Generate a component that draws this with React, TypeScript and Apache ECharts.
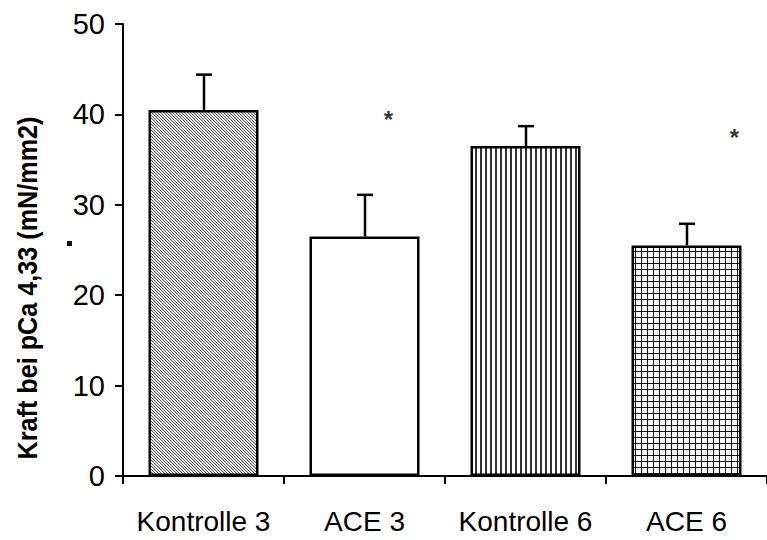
import React, { useEffect, useRef } from "react";
import * as echarts from "echarts";

const categories = ["Kontrolle 3", "ACE 3", "Kontrolle 6", "ACE 6"];
const meanValues = [40.5, 26.5, 36.5, 25.5];
const errorTops = [44.4, 31.1, 38.7, 27.9];
const starCategories = [1, 3];
const starValues = [39.4, 37.4];
const yTicks = { min: 0, max: 50, interval: 10 };

function makePattern(kind: string): HTMLCanvasElement {
  const c = document.createElement("canvas");
  if (kind === "diag") {
    c.width = 6; c.height = 6;
    const ctx = c.getContext("2d")!;
    ctx.fillStyle = "#ffffff";
    ctx.fillRect(0, 0, 6, 6);
    for (let y = 0; y < 6; y++) {
      for (let x = 0; x < 6; x++) {
        const m = (x - y + 60) % 3;
        if (m === 0) { ctx.fillStyle = "#555555"; ctx.fillRect(x, y, 1, 1); }
        else if (m === 1 && (x + y) % 2 === 0) { ctx.fillStyle = "#c8c8c8"; ctx.fillRect(x, y, 1, 1); }
      }
    }
  } else if (kind === "vert") {
    c.width = 5; c.height = 5;
    const ctx = c.getContext("2d")!;
    ctx.fillStyle = "#ffffff";
    ctx.fillRect(0, 0, 5, 5);
    ctx.fillStyle = "#333333";
    ctx.fillRect(0, 0, 2, 5);
  } else if (kind === "grid") {
    c.width = 6; c.height = 6;
    const ctx = c.getContext("2d")!;
    ctx.fillStyle = "#ffffff";
    ctx.fillRect(0, 0, 6, 6);
    ctx.fillStyle = "#111111";
    ctx.fillRect(5, 0, 1, 6);
    ctx.fillRect(0, 5, 6, 1);
  }
  return c;
}

export default function App() {
  const ref = useRef<HTMLDivElement>(null);
  useEffect(() => {
    if (!ref.current) return;
    const chart = echarts.init(ref.current, null, { renderer: "svg" });
    const fills: any[] = [
      { image: makePattern("diag"), repeat: "repeat" },
      "#ffffff",
      { image: makePattern("vert"), repeat: "repeat" },
      { image: makePattern("grid"), repeat: "repeat" },
    ];
    const starOffsets = [[24, 0], [48, 0]];
    const font = "'Liberation Sans', Arial, sans-serif";
    chart.setOption({
      animation: false,
      backgroundColor: "#ffffff",
      grid: { left: 123, top: 24, width: 652, height: 452 },
      xAxis: {
        type: "category",
        data: categories,
        boundaryGap: true,
        axisLine: { lineStyle: { color: "#000", width: 2 } },
        axisTick: { show: true, length: 8, lineStyle: { color: "#000", width: 2 } },
        axisLabel: { color: "#000", fontSize: 28, fontFamily: font, margin: 31, interval: 0 },
        splitLine: { show: false },
      },
      yAxis: {
        type: "value",
        min: yTicks.min,
        max: yTicks.max,
        interval: yTicks.interval,
        axisLine: { show: true, lineStyle: { color: "#000", width: 2 } },
        axisTick: { show: true, length: 8, lineStyle: { color: "#000", width: 2 } },
        axisLabel: { color: "#000", fontSize: 29, fontFamily: font, margin: 18 },
        splitLine: { show: false },
      },
      graphic: [
        {
          type: "text",
          x: 28,
          y: 288,
          rotation: Math.PI / 2,
          scaleX: 0.9,
          style: {
            text: "Kraft bei pCa 4,33 (mN/mm2)",
            fontSize: 28,
            fontWeight: "bold",
            fontFamily: font,
            fill: "#000",
            align: "center",
            verticalAlign: "middle",
          },
        },
        {
          type: "rect",
          shape: { x: 67, y: 241, width: 5, height: 5 },
          style: { fill: "#000" },
        },
      ],
      series: [
        {
          type: "bar",
          barWidth: 110,
          data: meanValues.map((v, i) => ({
            value: v,
            itemStyle: { color: fills[i], borderColor: "#000", borderWidth: 2.5 },
          })),
          z: 2,
        },
        {
          type: "custom",
          z: 3,
          data: meanValues.map((v, i) => [i, v, errorTops[i]]),
          renderItem: (params: any, api: any) => {
            const base = api.coord([api.value(0), api.value(1)]);
            const top = api.coord([api.value(0), api.value(2)]);
            const x = Math.round(base[0]);
            return {
              type: "group",
              children: [
                {
                  type: "line",
                  shape: { x1: x, y1: base[1], x2: x, y2: top[1] },
                  style: { stroke: "#000", lineWidth: 2.5 },
                },
                {
                  type: "line",
                  shape: { x1: x - 8, y1: top[1], x2: x + 8, y2: top[1] },
                  style: { stroke: "#000", lineWidth: 2.5 },
                },
              ],
            };
          },
        },
        {
          type: "scatter",
          symbolSize: 0,
          z: 4,
          data: starCategories.map((c, i) => ({
            value: [c, starValues[i]],
            label: { offset: starOffsets[i] },
          })),
          label: {
            show: true,
            formatter: "*",
            position: "inside",
            color: "#000",
            fontSize: 24,
            fontWeight: "bold",
            fontFamily: font,
          },
        },
      ],
    });
    return () => chart.dispose();
  }, []);
  return <div ref={ref} style={{ width: 767, height: 540, position: "absolute", left: 0, top: 0 }} />;
}
